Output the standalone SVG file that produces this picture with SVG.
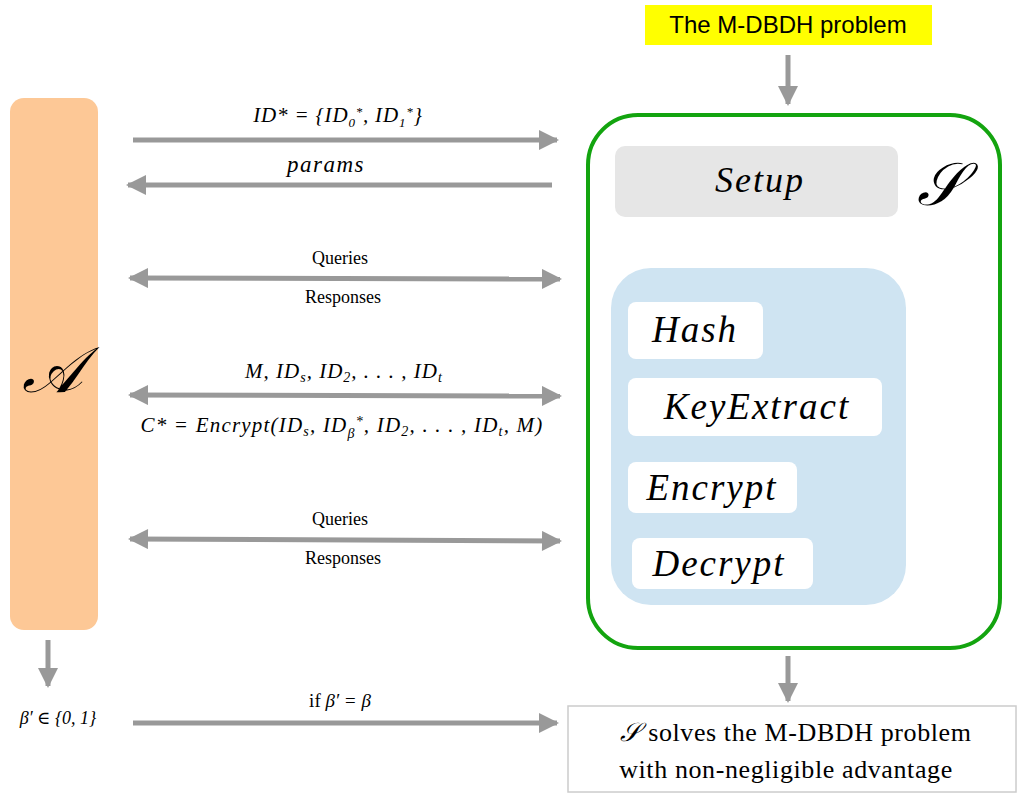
<svg xmlns="http://www.w3.org/2000/svg" width="1024" height="801" viewBox="0 0 1024 801">
<style>
.m{font-family:"Liberation Serif","DejaVu Serif",serif;font-style:italic;fill:#000}
.r{font-family:"Liberation Serif","DejaVu Serif",serif;fill:#000}
.o{letter-spacing:2px}
.c line{stroke:#999;stroke-width:5}
.w{fill:#fff}
</style>
<defs>
<marker id="h" viewBox="0 0 10 10" refX="9" refY="5" markerWidth="5.5" markerHeight="4" orient="auto-start-reverse" markerUnits="strokeWidth"><path d="M0,0L10,5L0,10z" fill="#999"/></marker>
</defs>
<rect width="1024" height="801" fill="#fff"/>
<g id="A"><rect x="10" y="98" width="88" height="532" rx="14" fill="#fdc896"/><text x="52" y="392" class="m" font-size="64" text-anchor="middle" font-family="DejaVu Serif">𝒜</text></g>
<g id="problem"><rect x="645" y="5" width="287" height="40" fill="#ffff00"/><text x="788" y="33" font-family="Liberation Sans,Arial,sans-serif" font-size="24" text-anchor="middle">The M-DBDH problem</text></g>
<g id="S"><rect x="588" y="115" width="412" height="533" rx="50" fill="none" stroke="#13a40f" stroke-width="4"/><text x="940" y="205" class="m" font-size="60" text-anchor="middle">𝒮</text></g>
<g id="setup"><rect x="615" y="146" width="283" height="71" rx="10" fill="#e6e6e6"/><text x="760" y="192" class="m o" font-size="36" text-anchor="middle">Setup</text></g>
<g id="oracles"><rect x="611" y="268" width="295" height="337" rx="40" fill="#cfe4f2"/></g>
<g id="hash"><rect x="628" y="302" width="135" height="57" rx="8" class="w"/><text x="695" y="342" class="m o" font-size="37" text-anchor="middle">Hash</text></g>
<g id="keyextract"><rect x="628" y="378" width="254" height="58" rx="8" class="w"/><text x="757" y="419" class="m o" font-size="37" text-anchor="middle">KeyExtract</text></g>
<g id="encrypt"><rect x="628" y="462" width="169" height="51" rx="8" class="w"/><text x="712" y="500" class="m o" font-size="37" text-anchor="middle">Encrypt</text></g>
<g id="decrypt"><rect x="632" y="538" width="181" height="51" rx="8" class="w"/><text x="719" y="576" class="m o" font-size="37" text-anchor="middle">Decrypt</text></g>
<g id="result"><rect x="568" y="706" width="448" height="86" fill="#fff" stroke="#ccc" stroke-width="1.5"/><text x="796" y="741" class="r" font-size="26" text-anchor="middle" letter-spacing="0.6"><tspan class="m">𝒮</tspan> solves the M-DBDH problem</text><text x="786" y="778" class="r" font-size="26" text-anchor="middle" letter-spacing="0.6">with non-negligible advantage</text></g>
<g class="c" id="connectors">
<line x1="133" y1="140" x2="557" y2="140" marker-end="url(#h)"/>
<line x1="552" y1="185" x2="128" y2="185" marker-end="url(#h)"/>
<line x1="130" y1="278" x2="560" y2="279" marker-start="url(#h)" marker-end="url(#h)"/>
<line x1="130" y1="395" x2="560" y2="396" marker-start="url(#h)" marker-end="url(#h)"/>
<line x1="130" y1="539" x2="560" y2="541" marker-start="url(#h)" marker-end="url(#h)"/>
<line x1="133" y1="723" x2="557" y2="723" marker-end="url(#h)"/>
<line x1="48" y1="640" x2="48" y2="686" marker-end="url(#h)"/>
<line x1="788" y1="55" x2="788" y2="104" marker-end="url(#h)"/>
<line x1="788" y1="656" x2="788" y2="701" marker-end="url(#h)"/>
</g>
<g id="labels" font-size="21">
<text x="338" y="122" class="m" text-anchor="middle" letter-spacing="0.8">ID* = {ID<tspan font-size="13" dy="5">0</tspan><tspan font-size="13" dy="-11">*</tspan><tspan dy="6">, ID</tspan><tspan font-size="13" dy="5">1</tspan><tspan font-size="13" dy="-11">*</tspan><tspan dy="6">}</tspan></text>
<text x="326" y="172" class="m" text-anchor="middle" font-size="23" letter-spacing="1.5">params</text>
<text x="340" y="264" class="r" text-anchor="middle" font-size="18">Queries</text>
<text x="343" y="303" class="r" text-anchor="middle" font-size="18">Responses</text>
<text x="344" y="378" class="m" text-anchor="middle" letter-spacing="1">M, ID<tspan font-size="14" dy="4">s</tspan><tspan dy="-4">, ID</tspan><tspan font-size="14" dy="4">2</tspan><tspan dy="-4">, . . . , ID</tspan><tspan font-size="14" dy="4">t</tspan></text>
<text x="342" y="432" class="m" text-anchor="middle" letter-spacing="1.2">C* = Encrypt(ID<tspan font-size="14" dy="4">s</tspan><tspan dy="-4">, ID</tspan><tspan font-size="14" dy="6">β</tspan><tspan font-size="14" dy="-12">*</tspan><tspan dy="6">, ID</tspan><tspan font-size="14" dy="4">2</tspan><tspan dy="-4">, . . . , ID</tspan><tspan font-size="14" dy="4">t</tspan><tspan dy="-4">, M)</tspan></text>
<text x="340" y="525" class="r" text-anchor="middle" font-size="18">Queries</text>
<text x="343" y="564" class="r" text-anchor="middle" font-size="18">Responses</text>
<text x="340" y="707" class="r" text-anchor="middle" font-size="19">if <tspan class="m">β′ = β</tspan></text>
<text x="58" y="724" class="m" text-anchor="middle" font-size="18">β′ ∈ <tspan class="r">{0, 1}</tspan></text>
</g>
</svg>
